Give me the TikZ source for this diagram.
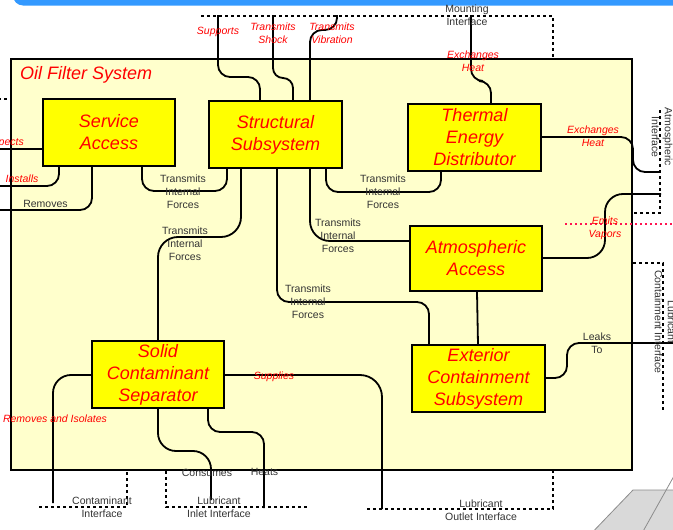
\documentclass[tikz,border=0pt]{standalone}
\usepackage{fontspec}
\setmainfont{Liberation Sans}
\definecolor{sysyellow}{HTML}{FFFFCC}
\definecolor{subyellow}{HTML}{FFFF00}
\definecolor{titlebar}{HTML}{3399FF}
\definecolor{notegray}{HTML}{333333}
\definecolor{vaporred}{HTML}{FF1450}
\tikzset{
  sub/.style={draw,line width=2pt,fill=subyellow,text=red,align=center,inner sep=0pt,
    minimum width=133pt,minimum height=67pt,font=\itshape\fontsize{18}{22}\selectfont},
  link/.style={line width=1.8pt,rounded corners=12pt},
  iface/.style={line width=1.8pt,dash pattern=on 3pt off 3pt},
  flow/.style={text=red,align=center,inner sep=0pt,font=\itshape\fontsize{10.5}{13}\selectfont},
  note/.style={text=notegray,align=center,inner sep=0pt,font=\fontsize{10.5}{13}\selectfont}
}
\begin{document}
\begin{tikzpicture}[x=1pt,y=-1pt]
 \useasboundingbox (0,0) rectangle (673,530);
 \fill[titlebar,rounded corners=10pt] (13,-30) rectangle (700,5.5);
 \filldraw[fill=black!15,draw=black!45,line width=0.8pt] (633,490) -- (680,490) -- (680,540) -- (585,540) -- cycle;
 \draw[black!45,line width=0.8pt] (674,476) -- (641,535);

 \node[draw,line width=2pt,fill=sysyellow,minimum width=621pt,minimum height=411pt,anchor=north west] (sys) at (10,58) {};
 \node[anchor=west,text=red,inner sep=0pt,font=\itshape\fontsize{18}{22}\selectfont] (title) at (20,75) {Oil Filter System};

 \node[sub,minimum width=132pt] (service) at (109,132.5) {Service\\Access};
 \node[sub] (struct) at (275.5,134.5) {Structural\\Subsystem};
 \node[sub] (thermal) at (474.5,137.5) {Thermal\\Energy\\Distributor};
 \node[sub,minimum width=132pt,minimum height=65pt] (atmos) at (476,258.5) {Atmospheric\\Access};
 \node[sub,minimum width=132pt] (solid) at (158,374.5) {Solid\\Contaminant\\Separator};
 \node[sub] (exterior) at (478.5,378.5) {Exterior\\Containment\\Subsystem};

 \coordinate (mntL) at (201,16);
 \coordinate (mntR) at (553,16);
 \coordinate (supEnd) at (218,15);
 \coordinate (shkEnd) at (273,15);
 \coordinate (vibEnd) at (337,15);
 \coordinate (hxTop) at (471,15);
 \coordinate (leftIf) at (-2,99);
 \coordinate (inspEnd) at (-2,149);
 \coordinate (instEnd) at (-2,186);
 \coordinate (remEnd) at (-2,210);
 \coordinate (atmTop) at (660,110);
 \coordinate (atmBot) at (660,213);
 \coordinate (hxSide) at (660,172);
 \coordinate (vapEnd) at (661,194);
 \coordinate (vapL) at (565,224);
 \coordinate (vapR) at (676,224);
 \coordinate (lciTop) at (663,263);
 \coordinate (lciBot) at (663,410);
 \coordinate (leakEnd) at (676,343);
 \coordinate (ctmL) at (39,507);
 \coordinate (ctmR) at (127,507);
 \coordinate (ctmEnd) at (53,503);
 \coordinate (conEnd) at (211,500);
 \coordinate (heatEnd) at (264,508);
 \coordinate (inlR) at (308,507);
 \coordinate (supplEnd) at (382,509);
 \coordinate (outL) at (367,509);
 \coordinate (outR) at (553,509);

 \draw[iface] (mntL) -- (mntR) -- (mntR |- sys.north);
 \draw[iface] (leftIf) -- (sys.west |- leftIf);
 \draw[iface] (atmTop) -- (atmBot) -- (sys.east |- atmBot);
 \draw[iface] (sys.east |- lciTop) -- (lciTop) -- (lciBot);
 \draw[iface] (ctmL) -- (ctmR) -- (ctmR |- sys.south);
 \draw[iface] (166,0 |- sys.south) -- (166,507) -- (inlR);
 \draw[iface] (outL) -- (outR) -- (outR |- sys.south);
 \draw[vaporred,line width=2pt,dash pattern=on 2pt off 3pt] (vapL) -- (vapR);

 \draw[link] (struct.north -| 260,0) -- (260,77) -- (218,77) -- (supEnd);
 \draw[link,rounded corners=10pt] (struct.north -| 293,0) -- (293,78) -- (273,78) -- (shkEnd);
 \draw[link] (struct.north -| 310,0) -- (310,30) -- (337,30) -- (vibEnd);
 \draw[link] (thermal.north -| 491,0) -- (491,81) -- (471,81) -- (hxTop);
 \draw[link] (service.west |- inspEnd) -- (inspEnd);
 \draw[link] (service.south -| 59,0) -- (59,186) -- (instEnd);
 \draw[link] (service.south -| 92,0) -- (92,210) -- (remEnd);
 \draw[link] (service.south -| 142,0) -- (142,191) -- (227,191) -- (struct.south -| 227,0);
 \draw[link,rounded corners=20pt] (struct.south -| 241,0) -- (241,237) -- (158,237) -- (solid.north -| 158,0);
 \draw[link] (struct.south -| 277,0) -- (277,302) -- (429,302) -- (exterior.north -| 429,0);
 \draw[link,rounded corners=20pt] (struct.south -| 310,0) -- (310,241) -- (atmos.west |- 0,241);
 \draw[link] (struct.south -| 326,0) -- (326,192) -- (441,192) -- (thermal.south -| 441,0);
 \draw[link,rounded corners=0pt] (atmos.south -| 477,0) -- (exterior.north -| 478,0);
 \draw[link] (thermal.east |- 0,137) -- (633,137) -- (633,172) -- (hxSide);
 \draw[link,rounded corners=18pt] (atmos.east |- 0,258) -- (605,258) -- (605,194) -- (vapEnd);
 \draw[link] (exterior.east |- 0,378) -- (567,378) -- (567,343) -- (leakEnd);
 \draw[link,rounded corners=18pt] (solid.west |- 0,375) -- (53,375) -- (ctmEnd);
 \draw[link,rounded corners=18pt] (solid.south -| 158,0) -- (158,451) -- (211,451) -- (conEnd);
 \draw[link] (solid.south -| 208,0) -- (208,432) -- (264,432) -- (heatEnd);
 \draw[link,rounded corners=22pt] (solid.east |- 0,375) -- (382,375) -- (supplEnd);

 \node[note] (mntLbl) at (467,15) {Mounting\\Interface};
 \node[flow] (supLbl) at (218,32) {Supports};
 \node[flow] (shkLbl) at (273,33.5) {Transmits\\Shock};
 \node[flow] (vibLbl) at (332,33.5) {Transmits\\Vibration};
 \node[flow] (hxTopLbl) at (473,61.5) {Exchanges\\Heat};
 \node[flow,anchor=east] (inspLbl) at (24,143) {Inspects};
 \node[flow] (instLbl) at (22,179) {Installs};
 \node[note] (remLbl) at (45.5,204) {Removes};
 \node[note] (srvForce) at (183,192) {Transmits\\Internal\\Forces};
 \node[note] (sldForce) at (185,244) {Transmits\\Internal\\Forces};
 \node[note] (thmForce) at (383,192) {Transmits\\Internal\\Forces};
 \node[note] (atmForce) at (338,236) {Transmits\\Internal\\Forces};
 \node[note] (extForce) at (308,302) {Transmits\\Internal\\Forces};
 \node[flow] (hxSideLbl) at (593,136.5) {Exchanges\\Heat};
 \node[note,rotate=-90] (atmIfLbl) at (662,137) {Atmospheric\\Interface};
 \node[flow] (vapLbl) at (605,228) {Emits\\Vapors};
 \node[note,rotate=-90] (lciLbl) at (665,322) {Lubricant\\Containment Interface};
 \node[note] (leakLbl) at (597,343.5) {Leaks\\To};
 \node[flow] (isoLbl) at (55,419) {Removes and Isolates};
 \node[flow] (supplLbl) at (274,377) {Supplies};
 \node[note] (conLbl) at (207,473) {Consumes};
 \node[note] (heatLbl) at (264.5,472) {Heats};
 \node[note] (ctmLbl) at (102,507) {Contaminant\\Interface};
 \node[note] (inlLbl) at (219,507) {Lubricant\\Inlet Interface};
 \node[note] (outLbl) at (481,510) {Lubricant\\Outlet Interface};
\end{tikzpicture}
\end{document}
